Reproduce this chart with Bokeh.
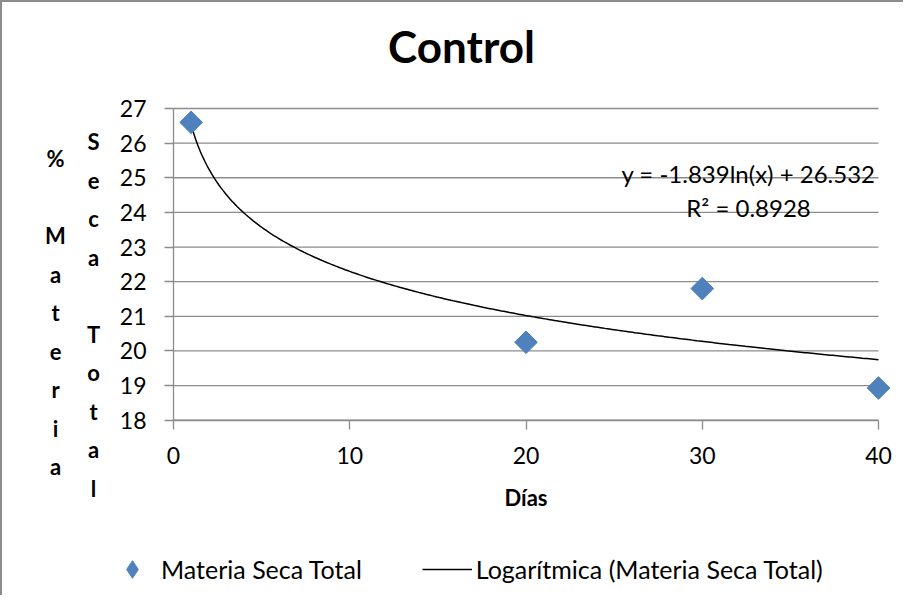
import numpy as np
from bokeh.plotting import figure
from bokeh.models import (Legend, LegendItem, Range1d, FixedTicker, LinearAxis,
                          Label)
from bokeh.core.properties import value
from bokeh.embed import file_html
from bokeh.resources import INLINE

# ---- data ----
dias = [1, 20, 30, 40]
materia_seca = [26.6, 20.25, 21.8, 18.93]
trend_a = -1.839
trend_b = 26.532
trend_r2 = 0.8928
x_ticks = [0, 10, 20, 30, 40]
y_ticks = [18, 19, 20, 21, 22, 23, 24, 25, 26, 27]
title_text = "Control"
x_title = "Días"
y_title_col1 = ["%", "", "M", "a", "t", "e", "r", "i", "a"]
y_title_col2 = ["S", "e", "c", "a", "", "T", "o", "t", "a", "l"]
series_name = "Materia Seca Total"
trend_name = "Logarítmica (Materia Seca Total)"

FONT = "Lato"
W, H = 903, 595
BLUE = "#4F81BD"
GRID = "#8c8c8c"

# page-pixel geometry of the plot area (canvas origin is at page 10,10)
OX, OY = 10, 10
X0PX, X40PX = 181.0, 886.0
Y27PX, Y18PX = 116.0, 427.7
XMIN, XMAX = x_ticks[0], x_ticks[-1]
YMIN, YMAX = y_ticks[0], y_ticks[-1]


def dx(px):
    return XMIN + (px - X0PX) / (X40PX - X0PX) * (XMAX - XMIN)


def dy(py):
    return YMAX - (py - Y27PX) / (Y18PX - Y27PX) * (YMAX - YMIN)


p = figure(width=W, height=H, output_backend="svg", toolbar_location=None,
           title=None, x_axis_location=None, y_axis_location=None,
           x_range=Range1d(dx(OX), dx(OX + W)),
           y_range=Range1d(dy(OY + H), dy(OY)), min_border=0)
p.styles = {"border-left": "2px solid #8c8c8c", "border-top": "2px solid #8c8c8c"}
p.outline_line_color = None
p.background_fill_color = "white"
p.border_fill_color = "white"
p.grid.grid_line_color = None
p.grid.visible = False

# horizontal gridlines at the y ticks across the plot area
p.segment(x0=[XMIN] * len(y_ticks), x1=[XMAX] * len(y_ticks),
          y0=y_ticks, y1=y_ticks, line_color=GRID, line_width=1.3)

xaxis = LinearAxis(fixed_location=YMIN, bounds=(XMIN, XMAX),
                   ticker=FixedTicker(ticks=x_ticks))
yaxis = LinearAxis(fixed_location=XMIN, bounds=(YMIN, YMAX),
                   ticker=FixedTicker(ticks=y_ticks))
for ax in (xaxis, yaxis):
    ax.axis_line_color = GRID
    ax.axis_line_width = 1.3
    ax.major_tick_line_color = GRID
    ax.major_tick_line_width = 1.3
    ax.major_tick_out = 9
    ax.major_tick_in = 0
    ax.minor_tick_line_color = None
    ax.major_label_text_font = FONT
    ax.major_label_text_font_size = "23px"
    ax.major_label_text_color = "black"
xaxis.major_label_standoff = 18
yaxis.major_label_standoff = 18
xaxis.axis_label = x_title
xaxis.axis_label_text_font = FONT
xaxis.axis_label_text_font_style = "bold"
xaxis.axis_label_text_font_size = "22px"
xaxis.axis_label_text_color = "black"
xaxis.axis_label_standoff = 16
p.add_layout(xaxis, "below")
p.add_layout(yaxis, "left")

# trendline from the chart's stated fit
xt = np.linspace(min(dias), max(dias), 300)
yt = trend_a * np.log(xt) + trend_b
r_line = p.line(xt, yt, line_color="black", line_width=1.5)

# diamond glyph (used as the legend swatch), covered by the rotated squares
r_key = p.scatter(dias, materia_seca, marker="diamond", size=20,
                  fill_color=BLUE, line_color=BLUE)
p.scatter(dias, materia_seca, marker="square", angle=np.pi / 4,
          size=16, fill_color=BLUE, line_color=BLUE)

# title
p.add_layout(Label(x=dx(469), y=dy(53), text=title_text, text_align="center",
                   text_baseline="alphabetic", text_font=FONT,
                   text_font_size="44px", text_font_style="bold",
                   text_color="black"))

# stacked y-axis title, two columns
c1 = [(ch, i) for i, ch in enumerate(y_title_col1) if ch]
c2 = [(ch, i) for i, ch in enumerate(y_title_col2) if ch]
for col, xpx, y0px in ((c1, 63, 166), (c2, 101, 149)):
    p.text(x=[dx(xpx)] * len(col), y=[dy(y0px + 38.5 * i) for _, i in col],
           text=[ch for ch, _ in col], text_align="center",
           text_baseline="alphabetic", text_font=value(FONT),
           text_font_size="22px", text_font_style="bold", text_color="black")

# equation text
eq1 = f"y = {trend_a}ln(x) + {trend_b}"
eq2 = f"R² = {trend_r2}"
p.text(x=[dx(756), dx(756)], y=[dy(181), dy(215)], text=[eq1, eq2],
       text_align="center", text_baseline="alphabetic",
       text_font=value(FONT), text_font_size="24px", text_color="black")

legend = Legend(items=[LegendItem(label=series_name, renderers=[r_key]),
                       LegendItem(label=trend_name, renderers=[r_line])],
                orientation="horizontal", location=(105, 6),
                glyph_width=50, glyph_height=44, label_standoff=4,
                spacing=60, padding=0, margin=0,
                border_line_color=None, background_fill_alpha=0,
                label_text_font=FONT, label_text_font_size="25px",
                label_text_color="black")
p.add_layout(legend, "center")

open("out.html", "w").write(file_html(p, INLINE))
